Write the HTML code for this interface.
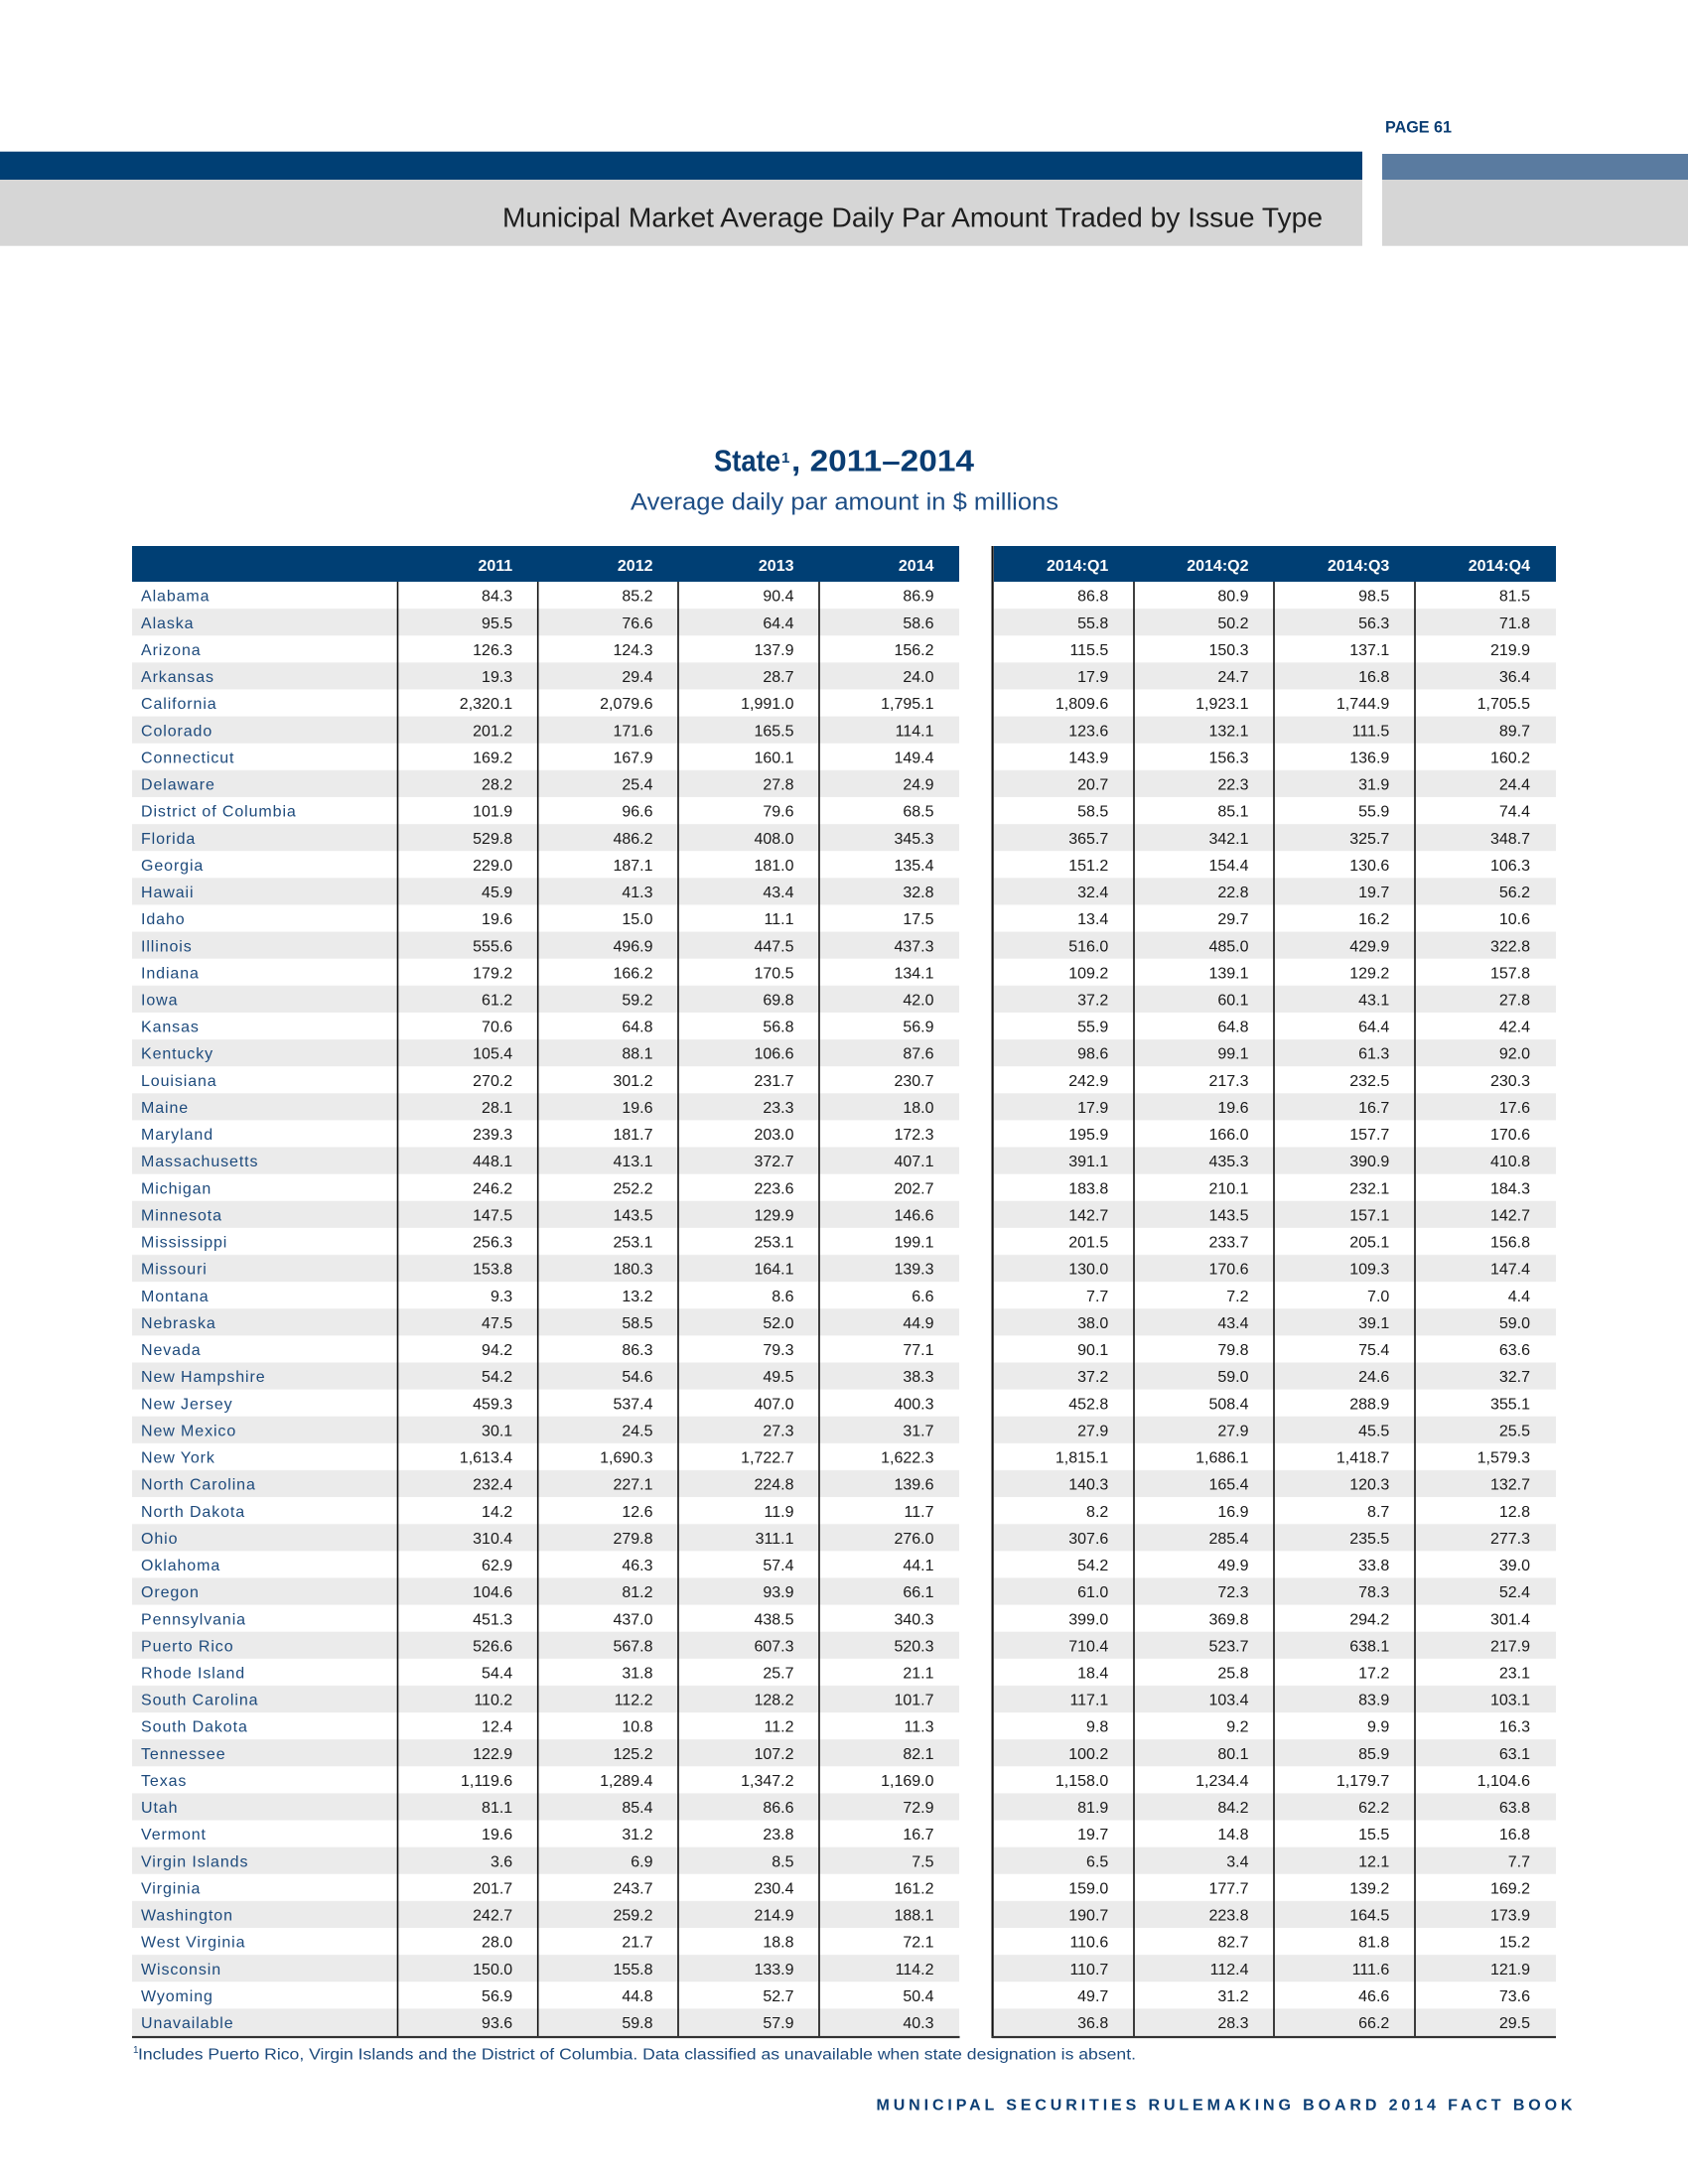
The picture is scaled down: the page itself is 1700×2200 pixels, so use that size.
<!DOCTYPE html>
<html><head><meta charset="utf-8"><style>
html,body{margin:0;padding:0;background:#fff;}
svg{display:block;}
text{font-family:"Liberation Sans",sans-serif;}
.d text{font-size:16px;fill:#1a1a1a;text-anchor:end;}
.d text.n{text-anchor:start;fill:#1d4a7c;letter-spacing:0.9px;}
.h text{font-size:16px;font-weight:bold;fill:#fff;text-anchor:end;}
</style></head><body>
<svg width="1700" height="2200" viewBox="0 0 1700 2200" xmlns="http://www.w3.org/2000/svg">
<defs>
<pattern id="zb" patternUnits="userSpaceOnUse" x="0" y="586" width="1700" height="54.24">
<rect x="0" y="27.12" width="1700" height="27.12" fill="#ebebeb"/>
</pattern>
</defs>
<rect width="1700" height="2200" fill="#fff"/>
<!-- top bands -->
<rect x="0" y="152.7" width="1372" height="28.3" fill="#003f74"/>
<rect x="0" y="181" width="1372" height="66.7" fill="#d6d6d6"/>
<rect x="1392" y="155" width="308" height="26" fill="#5a7ba0"/>
<rect x="1392" y="181" width="308" height="66.7" fill="#d6d6d6"/>
<text x="1395" y="133.3" font-size="17" font-weight="bold" fill="#0a3d73" textLength="67" lengthAdjust="spacingAndGlyphs">PAGE 61</text>
<text x="506" y="228.3" font-size="28" fill="#1e1e1e" textLength="826" lengthAdjust="spacingAndGlyphs">Municipal Market Average Daily Par Amount Traded by Issue Type</text>
<!-- titles -->
<text x="719" y="474.3" font-size="31" font-weight="bold" fill="#0a3d73" textLength="67" lengthAdjust="spacingAndGlyphs">State</text>
<text x="787" y="466" font-size="15" font-weight="bold" fill="#0a3d73">1</text>
<text x="797" y="474.3" font-size="31" font-weight="bold" fill="#0a3d73" textLength="184" lengthAdjust="spacingAndGlyphs">, 2011–2014</text>
<text x="635" y="513.3" font-size="24" fill="#1d4d85" textLength="431" lengthAdjust="spacingAndGlyphs">Average daily par amount in $ millions</text>
<!-- header bands -->
<rect x="133" y="550" width="833" height="36" fill="#003f74"/>
<rect x="1001" y="550" width="566" height="36" fill="#003f74"/>
<!-- zebra -->
<rect x="133" y="586" width="833" height="1464.5" fill="url(#zb)"/>
<rect x="1001" y="586" width="566" height="1464.5" fill="url(#zb)"/>
<!-- header text -->
<g class="h" transform="translate(0,575)">
<text x="516.2">2011</text><text x="657.5">2012</text><text x="799.5">2013</text><text x="940.5">2014</text>
<text x="1116.3">2014:Q1</text><text x="1257.5">2014:Q2</text><text x="1399.3">2014:Q3</text><text x="1541">2014:Q4</text>
</g>
<!-- grid lines -->
<g stroke="#111" stroke-width="1.6">
<line x1="400.5" y1="586" x2="400.5" y2="2051"/>
<line x1="541.7" y1="586" x2="541.7" y2="2051"/>
<line x1="683" y1="586" x2="683" y2="2051"/>
<line x1="825" y1="586" x2="825" y2="2051"/>
<line x1="1142" y1="586" x2="1142" y2="2051"/>
<line x1="1283" y1="586" x2="1283" y2="2051"/>
<line x1="1425" y1="586" x2="1425" y2="2051"/>
</g>
<line x1="999.6" y1="550" x2="999.6" y2="2053" stroke="#111" stroke-width="2.2"/>
<g stroke="#333" stroke-width="2.2">
<line x1="133" y1="2052" x2="966.5" y2="2052"/>
<line x1="999" y1="2052" x2="1567" y2="2052"/>
</g>
<!-- data -->
<g class="d">
<g transform="translate(0,605.7)"><text class="n" x="142">Alabama</text><text x="516.2">84.3</text><text x="657.5">85.2</text><text x="799.5">90.4</text><text x="940.5">86.9</text><text x="1116.3">86.8</text><text x="1257.5">80.9</text><text x="1399.3">98.5</text><text x="1541">81.5</text></g>
<g transform="translate(0,632.82)"><text class="n" x="142">Alaska</text><text x="516.2">95.5</text><text x="657.5">76.6</text><text x="799.5">64.4</text><text x="940.5">58.6</text><text x="1116.3">55.8</text><text x="1257.5">50.2</text><text x="1399.3">56.3</text><text x="1541">71.8</text></g>
<g transform="translate(0,659.94)"><text class="n" x="142">Arizona</text><text x="516.2">126.3</text><text x="657.5">124.3</text><text x="799.5">137.9</text><text x="940.5">156.2</text><text x="1116.3">115.5</text><text x="1257.5">150.3</text><text x="1399.3">137.1</text><text x="1541">219.9</text></g>
<g transform="translate(0,687.06)"><text class="n" x="142">Arkansas</text><text x="516.2">19.3</text><text x="657.5">29.4</text><text x="799.5">28.7</text><text x="940.5">24.0</text><text x="1116.3">17.9</text><text x="1257.5">24.7</text><text x="1399.3">16.8</text><text x="1541">36.4</text></g>
<g transform="translate(0,714.18)"><text class="n" x="142">California</text><text x="516.2">2,320.1</text><text x="657.5">2,079.6</text><text x="799.5">1,991.0</text><text x="940.5">1,795.1</text><text x="1116.3">1,809.6</text><text x="1257.5">1,923.1</text><text x="1399.3">1,744.9</text><text x="1541">1,705.5</text></g>
<g transform="translate(0,741.3)"><text class="n" x="142">Colorado</text><text x="516.2">201.2</text><text x="657.5">171.6</text><text x="799.5">165.5</text><text x="940.5">114.1</text><text x="1116.3">123.6</text><text x="1257.5">132.1</text><text x="1399.3">111.5</text><text x="1541">89.7</text></g>
<g transform="translate(0,768.42)"><text class="n" x="142">Connecticut</text><text x="516.2">169.2</text><text x="657.5">167.9</text><text x="799.5">160.1</text><text x="940.5">149.4</text><text x="1116.3">143.9</text><text x="1257.5">156.3</text><text x="1399.3">136.9</text><text x="1541">160.2</text></g>
<g transform="translate(0,795.54)"><text class="n" x="142">Delaware</text><text x="516.2">28.2</text><text x="657.5">25.4</text><text x="799.5">27.8</text><text x="940.5">24.9</text><text x="1116.3">20.7</text><text x="1257.5">22.3</text><text x="1399.3">31.9</text><text x="1541">24.4</text></g>
<g transform="translate(0,822.66)"><text class="n" x="142">District of Columbia</text><text x="516.2">101.9</text><text x="657.5">96.6</text><text x="799.5">79.6</text><text x="940.5">68.5</text><text x="1116.3">58.5</text><text x="1257.5">85.1</text><text x="1399.3">55.9</text><text x="1541">74.4</text></g>
<g transform="translate(0,849.78)"><text class="n" x="142">Florida</text><text x="516.2">529.8</text><text x="657.5">486.2</text><text x="799.5">408.0</text><text x="940.5">345.3</text><text x="1116.3">365.7</text><text x="1257.5">342.1</text><text x="1399.3">325.7</text><text x="1541">348.7</text></g>
<g transform="translate(0,876.9)"><text class="n" x="142">Georgia</text><text x="516.2">229.0</text><text x="657.5">187.1</text><text x="799.5">181.0</text><text x="940.5">135.4</text><text x="1116.3">151.2</text><text x="1257.5">154.4</text><text x="1399.3">130.6</text><text x="1541">106.3</text></g>
<g transform="translate(0,904.02)"><text class="n" x="142">Hawaii</text><text x="516.2">45.9</text><text x="657.5">41.3</text><text x="799.5">43.4</text><text x="940.5">32.8</text><text x="1116.3">32.4</text><text x="1257.5">22.8</text><text x="1399.3">19.7</text><text x="1541">56.2</text></g>
<g transform="translate(0,931.14)"><text class="n" x="142">Idaho</text><text x="516.2">19.6</text><text x="657.5">15.0</text><text x="799.5">11.1</text><text x="940.5">17.5</text><text x="1116.3">13.4</text><text x="1257.5">29.7</text><text x="1399.3">16.2</text><text x="1541">10.6</text></g>
<g transform="translate(0,958.26)"><text class="n" x="142">Illinois</text><text x="516.2">555.6</text><text x="657.5">496.9</text><text x="799.5">447.5</text><text x="940.5">437.3</text><text x="1116.3">516.0</text><text x="1257.5">485.0</text><text x="1399.3">429.9</text><text x="1541">322.8</text></g>
<g transform="translate(0,985.38)"><text class="n" x="142">Indiana</text><text x="516.2">179.2</text><text x="657.5">166.2</text><text x="799.5">170.5</text><text x="940.5">134.1</text><text x="1116.3">109.2</text><text x="1257.5">139.1</text><text x="1399.3">129.2</text><text x="1541">157.8</text></g>
<g transform="translate(0,1012.5)"><text class="n" x="142">Iowa</text><text x="516.2">61.2</text><text x="657.5">59.2</text><text x="799.5">69.8</text><text x="940.5">42.0</text><text x="1116.3">37.2</text><text x="1257.5">60.1</text><text x="1399.3">43.1</text><text x="1541">27.8</text></g>
<g transform="translate(0,1039.62)"><text class="n" x="142">Kansas</text><text x="516.2">70.6</text><text x="657.5">64.8</text><text x="799.5">56.8</text><text x="940.5">56.9</text><text x="1116.3">55.9</text><text x="1257.5">64.8</text><text x="1399.3">64.4</text><text x="1541">42.4</text></g>
<g transform="translate(0,1066.74)"><text class="n" x="142">Kentucky</text><text x="516.2">105.4</text><text x="657.5">88.1</text><text x="799.5">106.6</text><text x="940.5">87.6</text><text x="1116.3">98.6</text><text x="1257.5">99.1</text><text x="1399.3">61.3</text><text x="1541">92.0</text></g>
<g transform="translate(0,1093.86)"><text class="n" x="142">Louisiana</text><text x="516.2">270.2</text><text x="657.5">301.2</text><text x="799.5">231.7</text><text x="940.5">230.7</text><text x="1116.3">242.9</text><text x="1257.5">217.3</text><text x="1399.3">232.5</text><text x="1541">230.3</text></g>
<g transform="translate(0,1120.98)"><text class="n" x="142">Maine</text><text x="516.2">28.1</text><text x="657.5">19.6</text><text x="799.5">23.3</text><text x="940.5">18.0</text><text x="1116.3">17.9</text><text x="1257.5">19.6</text><text x="1399.3">16.7</text><text x="1541">17.6</text></g>
<g transform="translate(0,1148.1)"><text class="n" x="142">Maryland</text><text x="516.2">239.3</text><text x="657.5">181.7</text><text x="799.5">203.0</text><text x="940.5">172.3</text><text x="1116.3">195.9</text><text x="1257.5">166.0</text><text x="1399.3">157.7</text><text x="1541">170.6</text></g>
<g transform="translate(0,1175.22)"><text class="n" x="142">Massachusetts</text><text x="516.2">448.1</text><text x="657.5">413.1</text><text x="799.5">372.7</text><text x="940.5">407.1</text><text x="1116.3">391.1</text><text x="1257.5">435.3</text><text x="1399.3">390.9</text><text x="1541">410.8</text></g>
<g transform="translate(0,1202.34)"><text class="n" x="142">Michigan</text><text x="516.2">246.2</text><text x="657.5">252.2</text><text x="799.5">223.6</text><text x="940.5">202.7</text><text x="1116.3">183.8</text><text x="1257.5">210.1</text><text x="1399.3">232.1</text><text x="1541">184.3</text></g>
<g transform="translate(0,1229.46)"><text class="n" x="142">Minnesota</text><text x="516.2">147.5</text><text x="657.5">143.5</text><text x="799.5">129.9</text><text x="940.5">146.6</text><text x="1116.3">142.7</text><text x="1257.5">143.5</text><text x="1399.3">157.1</text><text x="1541">142.7</text></g>
<g transform="translate(0,1256.58)"><text class="n" x="142">Mississippi</text><text x="516.2">256.3</text><text x="657.5">253.1</text><text x="799.5">253.1</text><text x="940.5">199.1</text><text x="1116.3">201.5</text><text x="1257.5">233.7</text><text x="1399.3">205.1</text><text x="1541">156.8</text></g>
<g transform="translate(0,1283.7)"><text class="n" x="142">Missouri</text><text x="516.2">153.8</text><text x="657.5">180.3</text><text x="799.5">164.1</text><text x="940.5">139.3</text><text x="1116.3">130.0</text><text x="1257.5">170.6</text><text x="1399.3">109.3</text><text x="1541">147.4</text></g>
<g transform="translate(0,1310.82)"><text class="n" x="142">Montana</text><text x="516.2">9.3</text><text x="657.5">13.2</text><text x="799.5">8.6</text><text x="940.5">6.6</text><text x="1116.3">7.7</text><text x="1257.5">7.2</text><text x="1399.3">7.0</text><text x="1541">4.4</text></g>
<g transform="translate(0,1337.94)"><text class="n" x="142">Nebraska</text><text x="516.2">47.5</text><text x="657.5">58.5</text><text x="799.5">52.0</text><text x="940.5">44.9</text><text x="1116.3">38.0</text><text x="1257.5">43.4</text><text x="1399.3">39.1</text><text x="1541">59.0</text></g>
<g transform="translate(0,1365.06)"><text class="n" x="142">Nevada</text><text x="516.2">94.2</text><text x="657.5">86.3</text><text x="799.5">79.3</text><text x="940.5">77.1</text><text x="1116.3">90.1</text><text x="1257.5">79.8</text><text x="1399.3">75.4</text><text x="1541">63.6</text></g>
<g transform="translate(0,1392.18)"><text class="n" x="142">New Hampshire</text><text x="516.2">54.2</text><text x="657.5">54.6</text><text x="799.5">49.5</text><text x="940.5">38.3</text><text x="1116.3">37.2</text><text x="1257.5">59.0</text><text x="1399.3">24.6</text><text x="1541">32.7</text></g>
<g transform="translate(0,1419.3)"><text class="n" x="142">New Jersey</text><text x="516.2">459.3</text><text x="657.5">537.4</text><text x="799.5">407.0</text><text x="940.5">400.3</text><text x="1116.3">452.8</text><text x="1257.5">508.4</text><text x="1399.3">288.9</text><text x="1541">355.1</text></g>
<g transform="translate(0,1446.42)"><text class="n" x="142">New Mexico</text><text x="516.2">30.1</text><text x="657.5">24.5</text><text x="799.5">27.3</text><text x="940.5">31.7</text><text x="1116.3">27.9</text><text x="1257.5">27.9</text><text x="1399.3">45.5</text><text x="1541">25.5</text></g>
<g transform="translate(0,1473.54)"><text class="n" x="142">New York</text><text x="516.2">1,613.4</text><text x="657.5">1,690.3</text><text x="799.5">1,722.7</text><text x="940.5">1,622.3</text><text x="1116.3">1,815.1</text><text x="1257.5">1,686.1</text><text x="1399.3">1,418.7</text><text x="1541">1,579.3</text></g>
<g transform="translate(0,1500.66)"><text class="n" x="142">North Carolina</text><text x="516.2">232.4</text><text x="657.5">227.1</text><text x="799.5">224.8</text><text x="940.5">139.6</text><text x="1116.3">140.3</text><text x="1257.5">165.4</text><text x="1399.3">120.3</text><text x="1541">132.7</text></g>
<g transform="translate(0,1527.78)"><text class="n" x="142">North Dakota</text><text x="516.2">14.2</text><text x="657.5">12.6</text><text x="799.5">11.9</text><text x="940.5">11.7</text><text x="1116.3">8.2</text><text x="1257.5">16.9</text><text x="1399.3">8.7</text><text x="1541">12.8</text></g>
<g transform="translate(0,1554.9)"><text class="n" x="142">Ohio</text><text x="516.2">310.4</text><text x="657.5">279.8</text><text x="799.5">311.1</text><text x="940.5">276.0</text><text x="1116.3">307.6</text><text x="1257.5">285.4</text><text x="1399.3">235.5</text><text x="1541">277.3</text></g>
<g transform="translate(0,1582.02)"><text class="n" x="142">Oklahoma</text><text x="516.2">62.9</text><text x="657.5">46.3</text><text x="799.5">57.4</text><text x="940.5">44.1</text><text x="1116.3">54.2</text><text x="1257.5">49.9</text><text x="1399.3">33.8</text><text x="1541">39.0</text></g>
<g transform="translate(0,1609.14)"><text class="n" x="142">Oregon</text><text x="516.2">104.6</text><text x="657.5">81.2</text><text x="799.5">93.9</text><text x="940.5">66.1</text><text x="1116.3">61.0</text><text x="1257.5">72.3</text><text x="1399.3">78.3</text><text x="1541">52.4</text></g>
<g transform="translate(0,1636.26)"><text class="n" x="142">Pennsylvania</text><text x="516.2">451.3</text><text x="657.5">437.0</text><text x="799.5">438.5</text><text x="940.5">340.3</text><text x="1116.3">399.0</text><text x="1257.5">369.8</text><text x="1399.3">294.2</text><text x="1541">301.4</text></g>
<g transform="translate(0,1663.38)"><text class="n" x="142">Puerto Rico</text><text x="516.2">526.6</text><text x="657.5">567.8</text><text x="799.5">607.3</text><text x="940.5">520.3</text><text x="1116.3">710.4</text><text x="1257.5">523.7</text><text x="1399.3">638.1</text><text x="1541">217.9</text></g>
<g transform="translate(0,1690.5)"><text class="n" x="142">Rhode Island</text><text x="516.2">54.4</text><text x="657.5">31.8</text><text x="799.5">25.7</text><text x="940.5">21.1</text><text x="1116.3">18.4</text><text x="1257.5">25.8</text><text x="1399.3">17.2</text><text x="1541">23.1</text></g>
<g transform="translate(0,1717.62)"><text class="n" x="142">South Carolina</text><text x="516.2">110.2</text><text x="657.5">112.2</text><text x="799.5">128.2</text><text x="940.5">101.7</text><text x="1116.3">117.1</text><text x="1257.5">103.4</text><text x="1399.3">83.9</text><text x="1541">103.1</text></g>
<g transform="translate(0,1744.74)"><text class="n" x="142">South Dakota</text><text x="516.2">12.4</text><text x="657.5">10.8</text><text x="799.5">11.2</text><text x="940.5">11.3</text><text x="1116.3">9.8</text><text x="1257.5">9.2</text><text x="1399.3">9.9</text><text x="1541">16.3</text></g>
<g transform="translate(0,1771.86)"><text class="n" x="142">Tennessee</text><text x="516.2">122.9</text><text x="657.5">125.2</text><text x="799.5">107.2</text><text x="940.5">82.1</text><text x="1116.3">100.2</text><text x="1257.5">80.1</text><text x="1399.3">85.9</text><text x="1541">63.1</text></g>
<g transform="translate(0,1798.98)"><text class="n" x="142">Texas</text><text x="516.2">1,119.6</text><text x="657.5">1,289.4</text><text x="799.5">1,347.2</text><text x="940.5">1,169.0</text><text x="1116.3">1,158.0</text><text x="1257.5">1,234.4</text><text x="1399.3">1,179.7</text><text x="1541">1,104.6</text></g>
<g transform="translate(0,1826.1)"><text class="n" x="142">Utah</text><text x="516.2">81.1</text><text x="657.5">85.4</text><text x="799.5">86.6</text><text x="940.5">72.9</text><text x="1116.3">81.9</text><text x="1257.5">84.2</text><text x="1399.3">62.2</text><text x="1541">63.8</text></g>
<g transform="translate(0,1853.22)"><text class="n" x="142">Vermont</text><text x="516.2">19.6</text><text x="657.5">31.2</text><text x="799.5">23.8</text><text x="940.5">16.7</text><text x="1116.3">19.7</text><text x="1257.5">14.8</text><text x="1399.3">15.5</text><text x="1541">16.8</text></g>
<g transform="translate(0,1880.34)"><text class="n" x="142">Virgin Islands</text><text x="516.2">3.6</text><text x="657.5">6.9</text><text x="799.5">8.5</text><text x="940.5">7.5</text><text x="1116.3">6.5</text><text x="1257.5">3.4</text><text x="1399.3">12.1</text><text x="1541">7.7</text></g>
<g transform="translate(0,1907.46)"><text class="n" x="142">Virginia</text><text x="516.2">201.7</text><text x="657.5">243.7</text><text x="799.5">230.4</text><text x="940.5">161.2</text><text x="1116.3">159.0</text><text x="1257.5">177.7</text><text x="1399.3">139.2</text><text x="1541">169.2</text></g>
<g transform="translate(0,1934.58)"><text class="n" x="142">Washington</text><text x="516.2">242.7</text><text x="657.5">259.2</text><text x="799.5">214.9</text><text x="940.5">188.1</text><text x="1116.3">190.7</text><text x="1257.5">223.8</text><text x="1399.3">164.5</text><text x="1541">173.9</text></g>
<g transform="translate(0,1961.7)"><text class="n" x="142">West Virginia</text><text x="516.2">28.0</text><text x="657.5">21.7</text><text x="799.5">18.8</text><text x="940.5">72.1</text><text x="1116.3">110.6</text><text x="1257.5">82.7</text><text x="1399.3">81.8</text><text x="1541">15.2</text></g>
<g transform="translate(0,1988.82)"><text class="n" x="142">Wisconsin</text><text x="516.2">150.0</text><text x="657.5">155.8</text><text x="799.5">133.9</text><text x="940.5">114.2</text><text x="1116.3">110.7</text><text x="1257.5">112.4</text><text x="1399.3">111.6</text><text x="1541">121.9</text></g>
<g transform="translate(0,2015.94)"><text class="n" x="142">Wyoming</text><text x="516.2">56.9</text><text x="657.5">44.8</text><text x="799.5">52.7</text><text x="940.5">50.4</text><text x="1116.3">49.7</text><text x="1257.5">31.2</text><text x="1399.3">46.6</text><text x="1541">73.6</text></g>
<g transform="translate(0,2043.06)"><text class="n" x="142">Unavailable</text><text x="516.2">93.6</text><text x="657.5">59.8</text><text x="799.5">57.9</text><text x="940.5">40.3</text><text x="1116.3">36.8</text><text x="1257.5">28.3</text><text x="1399.3">66.2</text><text x="1541">29.5</text></g>
</g>
<!-- footnote -->
<text x="134" y="2068" font-size="10" fill="#1d4a7c">1</text>
<text x="139" y="2074.3" font-size="15.5" fill="#1d4a7c" textLength="1005" lengthAdjust="spacingAndGlyphs">Includes Puerto Rico, Virgin Islands and the District of Columbia. Data classified as unavailable when state designation is absent.</text>
<!-- footer -->
<text x="882.5" y="2125.7" font-size="16" font-weight="bold" fill="#0a3d73" textLength="701" lengthAdjust="spacing">MUNICIPAL SECURITIES RULEMAKING BOARD 2014 FACT BOOK</text>
</svg>
</body></html>
